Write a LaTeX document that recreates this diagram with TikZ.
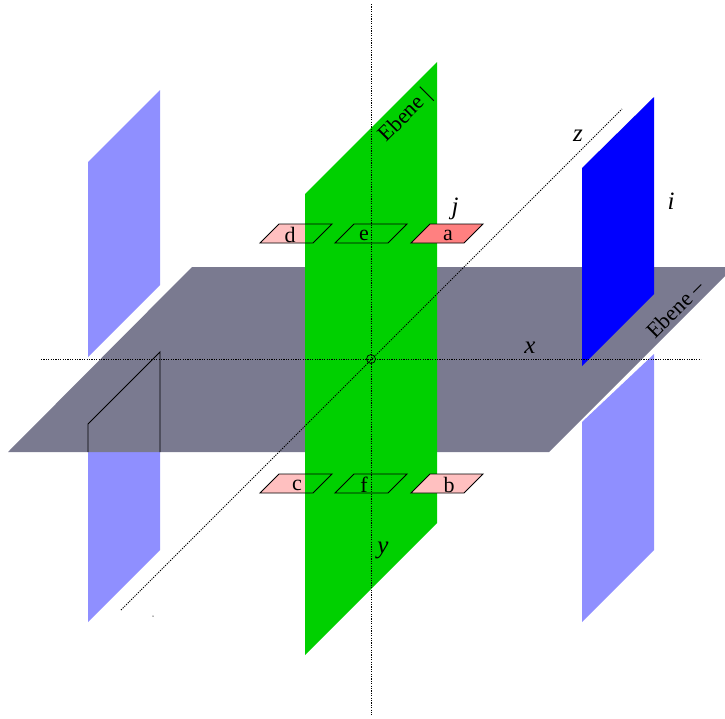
\documentclass[tikz,border=0pt]{standalone}
\usepackage{xcolor}
\usepackage{fontspec}
\setmainfont{Liberation Serif}
\usetikzlibrary{arrows.meta,positioning,calc}
\definecolor{planeg}{HTML}{00D000}
\definecolor{planeh}{HTML}{7A7A90}
\definecolor{planei}{HTML}{0000FF}
\definecolor{ghost}{HTML}{8F8FFF}
\definecolor{tilelo}{HTML}{FFC0C0}
\definecolor{tilehi}{HTML}{FF8080}
\tikzset{
  axis/.style={draw=black, line width=0.95pt, dash pattern=on 1.2pt off 1.2pt},
  rim/.style={draw=black, line width=0.9pt},
  lbl/.style={font=\fontsize{22}{26}\selectfont, inner sep=0pt},
  var/.style={font=\fontsize{25}{29}\selectfont\itshape, inner sep=0pt},
  tag/.style={lbl, rotate=45}
}
\begin{document}
\begin{tikzpicture}[x=1pt, y=-1pt]
  \useasboundingbox (0,0) rectangle (725,718);
  % faded copies of the blue plane
  \fill[ghost] (88,162) -- (160,90) -- (160,285) -- (88,357) -- cycle;
  \fill[ghost] (88,452) -- (160,452) -- (160,550) -- (88,622) -- cycle;
  \fill[ghost] (582,422) -- (654,354) -- (654,550) -- (582,622) -- cycle;
  % horizontal plane
  \fill[planeh] (8,452) -- (192,267) -- (725,267) -- (725,276) -- (549,452) -- cycle;
  \draw[rim] (88,452) -- (88,424) -- (160,352) -- (160,452);
  % tiles behind the green plane
  \fill[tilelo] (260,243) -- ++(19,-19) -- ++(53,0) -- ++(-19,19) -- cycle;
  \fill[tilelo] (260,493) -- ++(19,-19) -- ++(53,0) -- ++(-19,19) -- cycle;
  \fill[planeg] (305,194) -- (437,62) -- (437,523) -- (305,655) -- cycle;
  \fill[planei] (582,168) -- (654,97) -- (654,294) -- (582,366) -- cycle;
  % tiles in front
  \fill[tilehi] (411,243) -- ++(19,-19) -- ++(53,0) -- ++(-19,19) -- cycle;
  \fill[tilelo] (411,493) -- ++(19,-19) -- ++(53,0) -- ++(-19,19) -- cycle;
  \draw[rim] (260,243) -- ++(19,-19) -- ++(53,0) -- ++(-19,19) -- cycle;
  \draw[rim] (335,243) -- ++(19,-19) -- ++(53,0) -- ++(-19,19) -- cycle;
  \draw[rim] (411,243) -- ++(19,-19) -- ++(53,0) -- ++(-19,19) -- cycle;
  \draw[rim] (260,493) -- ++(19,-19) -- ++(53,0) -- ++(-19,19) -- cycle;
  \draw[rim] (335,493) -- ++(19,-19) -- ++(53,0) -- ++(-19,19) -- cycle;
  \draw[rim] (411,493) -- ++(19,-19) -- ++(53,0) -- ++(-19,19) -- cycle;
  % axes
  \coordinate (xa) at (41,359); \coordinate (xb) at (701,359);
  \coordinate (ya) at (371,4); \coordinate (yb) at (371,715);
  \coordinate (za) at (121,610); \coordinate (zb) at (622,109);
  \draw[axis] (xa) -- (xb);
  \draw[axis] (ya) -- (yb);
  \draw[axis] (za) -- (zb);
  \node[circle, draw=black, line width=0.7pt, minimum size=9pt, inner sep=0pt] (origin) at (371,359) {};
  \node[circle, fill=black!60, minimum size=1.5pt, inner sep=0pt] (speck) at (153,616) {};
  % labels
  \node[lbl] (ld) at (290,235) {d};
  \node[lbl] (le) at (364,235) {e};
  \node[lbl] (la) at (448,235) {a};
  \node[lbl] (lc) at (297,485) {c};
  \node[lbl] (lf) at (364,485) {f};
  \node[lbl] (lb) at (449,485) {b};
  \node[var] (vi) at (671,201) {i};
  \node[var] (vj) at (455,209) {j};
  \node[var] (vx) at (530,348) {x};
  \node[var] (vy) at (383,550) {y};
  \node[var] (vz) at (578,136) {z};
  \node[tag] (tv) at (406,116) {Ebene |};
  \node[tag] (th) at (675,309) {Ebene --};
\end{tikzpicture}
\end{document}
